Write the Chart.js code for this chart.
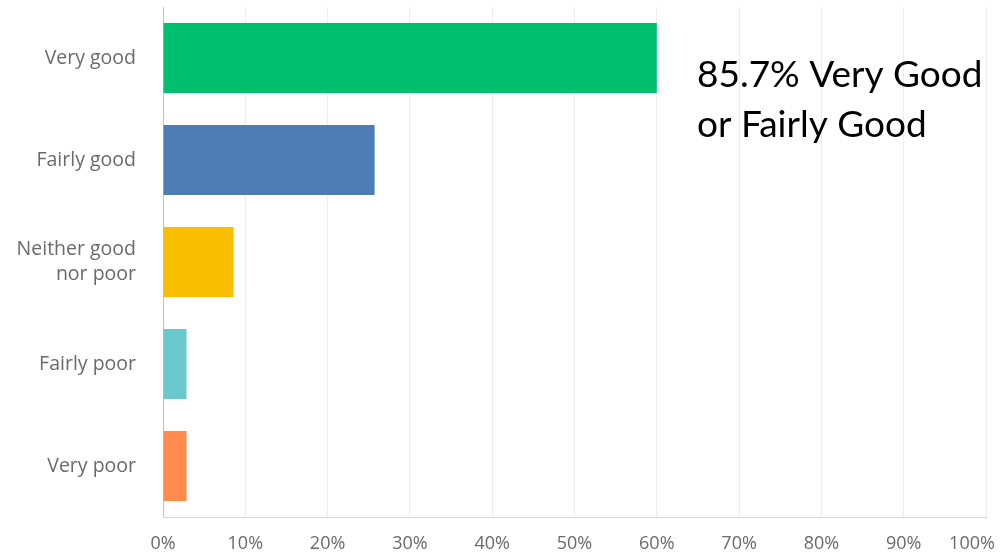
<!DOCTYPE html>
<html>
<head>
<meta charset="utf-8">
<script src="https://cdn.jsdelivr.net/npm/chart.js@4.4.1/dist/chart.umd.min.js"></script>
<style>
  html, body { margin: 0; padding: 0; background: #ffffff; }
  #wrap { width: 1003px; height: 557px; }
</style>
</head>
<body>
<div id="wrap"><canvas id="c" width="1003" height="557"></canvas></div>
<script>
// Survey answers and share of respondents (%)
const categories = ['Very good', 'Fairly good', ['Neither good', 'nor poor'], 'Fairly poor', 'Very poor'];
const shares = [60.0, 25.71, 8.57, 2.86, 2.86];
const barColors = ['#00bf6f', '#507cb6', '#f9be00', '#6bc8cd', '#ff8b4f'];
const tickValues = [0, 10, 20, 30, 40, 50, 60, 70, 80, 90, 100];
const calloutLines = ['85.7% Very Good', 'or Fairly Good'];

const uiFamily = "'Open Sans', 'Noto Sans', sans-serif";

// Callout text to the right of the top bar
const callout = {
  id: 'callout',
  afterDraw(chart) {
    const ctx = chart.ctx;
    ctx.save();
    ctx.fillStyle = '#000000';
    ctx.font = "37px Lato, 'Open Sans', sans-serif";
    ctx.textBaseline = 'alphabetic';
    ctx.textAlign = 'left';
    ctx.fillText(calloutLines[0], 697, 87, 292);
    ctx.fillText(calloutLines[1], 697, 137, 292);
    ctx.restore();
  }
};

// Pull the last tick label inside the canvas edge
const lastTickInside = {
  id: 'lastTickInside',
  beforeDraw(chart) {
    const items = chart.scales.x.getLabelItems();
    const last = items[items.length - 1];
    if (last && !last._moved) {
      last.options.translation[0] -= 14;
      last._moved = true;
    }
  }
};

new Chart(document.getElementById('c'), {
  type: 'bar',
  data: {
    labels: categories,
    datasets: [{
      data: shares,
      backgroundColor: barColors,
      borderWidth: 0,
      barPercentage: 0.686,
      categoryPercentage: 1.0
    }]
  },
  options: {
    indexAxis: 'y',
    responsive: false,
    animation: false,
    devicePixelRatio: 1,
    layout: { padding: { top: 7, right: 17, bottom: 0, left: 0 } },
    plugins: {
      legend: { display: false },
      tooltip: { enabled: false }
    },
    scales: {
      x: {
        min: 0,
        max: 100,
        afterBuildTicks(scale) {
          scale.ticks = tickValues.map(v => ({ value: v }));
        },
        afterFit(scale) {
          scale.height = 40;
          scale.paddingLeft = 0;
          scale.paddingRight = 0;
        },
        grid: {
          drawTicks: false,
          color: ctx => (ctx.tick && ctx.tick.value === 0) ? '#c4c4c4' : '#ececec',
          lineWidth: 1
        },
        border: { display: true, color: '#d6d6d6', width: 1 },
        ticks: {
          padding: 16,
          color: '#6a6a6a',
          font: { family: uiFamily, size: 18 },
          maxRotation: 0,
          autoSkip: false,
          callback: v => v + '%'
        }
      },
      y: {
        afterFit(scale) {
          scale.width = 163;
          scale.paddingTop = 0;
          scale.paddingBottom = 0;
        },
        grid: { display: false, drawTicks: false },
        border: { display: false },
        ticks: {
          padding: 27,
          color: '#6a6a6a',
          font: { family: uiFamily, size: 19.5, lineHeight: 1.28 }
        }
      }
    }
  },
  plugins: [callout, lastTickInside]
});
</script>
</body>
</html>
